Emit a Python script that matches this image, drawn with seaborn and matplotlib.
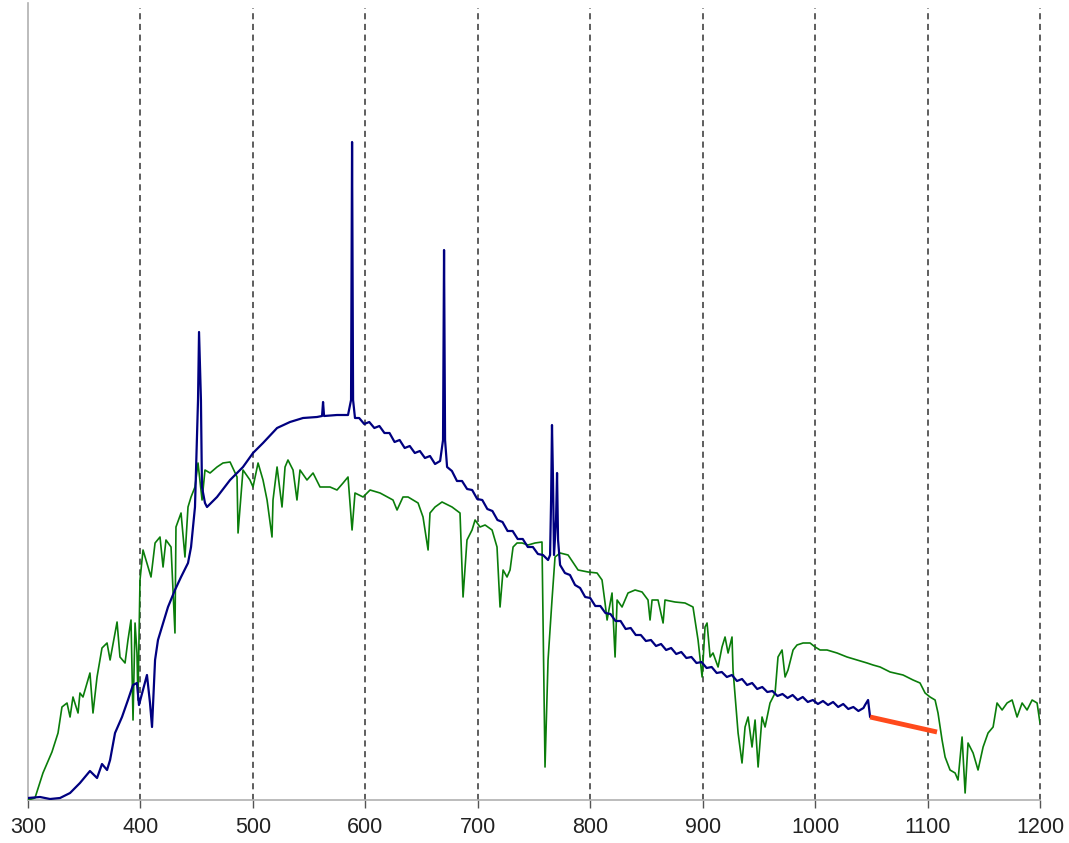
import matplotlib
matplotlib.use("Agg")
import matplotlib.pyplot as plt
import seaborn as sns
import pandas as pd

# Reference (sky) spectrum, relative intensity vs wavelength (nm)
ref_nm = [300.0, 306.2, 313.3, 321.3, 326.7, 330.2, 334.7, 337.4, 340.0, 344.5,
          346.2, 348.9, 355.1, 357.8, 361.4, 365.8, 370.3, 373.0, 379.2, 381.8,
          386.3, 388.9, 391.6, 393.4, 395.2, 396.9, 397.8, 399.6, 402.3, 409.4,
          413.0, 417.4, 420.1, 422.7, 427.2, 430.7, 431.6, 436.1, 439.6, 442.3,
          445.0, 448.5, 451.2, 454.8, 457.4, 461.9, 468.1, 473.4, 479.7, 485.9,
          486.8, 491.2, 497.4, 500.1, 504.6, 509.0, 512.6, 517.0, 517.9, 521.5,
          525.9, 528.6, 531.2, 535.7, 539.2, 541.9, 548.1, 553.5, 559.7, 568.6,
          574.8, 580.2, 584.6, 588.2, 590.8, 598.0, 604.2, 613.1, 624.6, 628.2,
          633.5, 638.0, 646.9, 651.3, 655.8, 657.5, 662.0, 668.2, 677.1, 684.2,
          686.9, 690.4, 694.9, 697.6, 702.0, 706.5, 712.7, 717.1, 719.8, 722.5,
          726.0, 728.7, 731.4, 734.9, 739.4, 744.7, 750.9, 757.1, 759.8, 762.5,
          766.0, 768.7, 773.2, 780.3, 789.2, 798.1, 806.1, 810.5, 813.2, 815.0,
          819.4, 822.1, 823.9, 828.3, 833.6, 839.9, 846.1, 851.4, 853.2, 855.0,
          860.3, 864.8, 866.5, 875.4, 884.3, 891.4, 895.9, 899.5, 902.1, 903.9,
          906.6, 909.2, 913.7, 917.2, 919.9, 922.6, 926.1, 927.0, 931.5, 935.0,
          937.7, 940.4, 943.9, 946.6, 949.3, 952.8, 955.5, 959.9, 964.4, 967.0,
          970.6, 973.3, 975.9, 980.4, 983.9, 989.3, 995.5, 1000.0, 1004.4, 1010.6,
          1019.5, 1028.4, 1037.3, 1046.2, 1051.5, 1057.8, 1066.7, 1078.2, 1087.1, 1093.3,
          1097.8, 1102.2, 1106.7, 1109.3, 1112.9, 1115.6, 1120.0, 1124.5, 1127.1, 1130.7,
          1133.4, 1136.0, 1140.5, 1144.9, 1149.4, 1153.8, 1158.3, 1161.8, 1166.3, 1170.7,
          1175.2, 1179.6, 1184.1, 1188.5, 1193.0, 1197.4, 1200.0]
ref_val = [0, 2, 27, 48, 67, 93, 97, 83, 103, 87,
           107, 103, 127, 87, 123, 152, 157, 140, 178, 143,
           137, 160, 180, 80, 177, 147, 100, 220, 250, 223,
           257, 263, 233, 260, 253, 167, 273, 287, 243, 293,
           303, 313, 337, 300, 330, 327, 333, 337, 338, 323,
           267, 330, 320, 313, 337, 320, 300, 263, 300, 333,
           293, 333, 340, 330, 300, 330, 320, 327, 313, 313,
           310, 317, 323, 270, 307, 303, 310, 307, 300, 290,
           303, 303, 297, 283, 250, 287, 293, 298, 293, 287,
           203, 260, 270, 280, 273, 275, 270, 253, 193, 230,
           223, 230, 253, 257, 257, 255, 257, 258, 33, 140,
           200, 243, 247, 245, 230, 228, 227, 220, 197, 180,
           207, 143, 200, 193, 207, 210, 208, 200, 180, 200,
           200, 177, 200, 198, 197, 193, 160, 123, 173, 177,
           143, 147, 133, 153, 163, 147, 163, 130, 67, 37,
           73, 83, 53, 80, 33, 83, 73, 97, 107, 143,
           150, 123, 130, 150, 155, 157, 157, 153, 150, 150,
           147, 143, 140, 137, 135, 133, 128, 125, 120, 117,
           107, 103, 100, 87, 60, 43, 30, 27, 20, 63,
           7, 57, 47, 30, 53, 67, 73, 97, 90, 97,
           100, 83, 97, 90, 100, 97, 77]

# Measured lamp spectrum with emission lines
lamp_nm = [300.0, 310.7, 319.6, 328.5, 337.4, 346.2, 355.1, 361.4, 365.8, 370.3,
           373.0, 377.4, 383.6, 388.9, 393.4, 396.9, 398.7, 402.3, 405.8, 408.5,
           410.3, 413.0, 415.6, 418.3, 424.5, 430.7, 436.1, 442.3, 445.0, 448.5,
           449.4, 451.2, 452.1, 453.8, 454.7, 457.4, 459.2, 468.1, 479.7, 491.2,
           500.1, 509.0, 521.5, 533.0, 544.6, 557.0, 561.5, 562.4, 563.3, 574.8,
           584.6, 587.3, 588.2, 589.1, 590.8, 594.5, 599.0, 603.5, 608.0, 612.5,
           617.0, 621.5, 626.0, 630.5, 635.0, 639.5, 644.0, 648.5, 653.0, 657.5,
           662.0, 666.5, 669.1, 670.0, 670.9, 672.7, 677.0, 681.5, 686.0, 690.5,
           695.0, 699.5, 704.0, 708.5, 713.0, 717.5, 722.0, 726.5, 731.0, 735.5,
           740.0, 744.5, 749.0, 753.5, 758.0, 762.5, 764.3, 765.2, 766.0, 766.9,
           767.8, 769.6, 770.5, 771.4, 773.2, 777.5, 782.0, 786.5, 791.0, 795.5,
           800.0, 804.5, 809.0, 813.5, 818.0, 822.5, 827.0, 831.5, 836.0, 840.5,
           845.0, 849.5, 854.0, 858.5, 863.0, 867.5, 872.0, 876.5, 881.0, 885.5,
           890.0, 894.5, 899.0, 903.5, 908.0, 912.5, 917.0, 921.5, 926.0, 930.5,
           935.0, 939.5, 944.0, 948.5, 953.0, 957.5, 962.0, 966.5, 971.0, 975.5,
           980.0, 984.5, 989.0, 993.5, 998.0, 1002.5, 1007.0, 1011.5, 1016.0, 1020.5,
           1025.0, 1029.5, 1034.0, 1038.5, 1043.0, 1044.4, 1047.1, 1048.9]
lamp_val = [2, 3, 1, 2, 7, 17, 29, 22, 36, 30,
            40, 67, 83, 100, 115, 117, 95, 110, 125, 97,
            73, 140, 160, 170, 193, 210, 223, 237, 253, 293,
            330, 400, 468, 400, 313, 297, 293, 303, 320, 333,
            347, 357, 372, 378, 382, 383, 384, 398, 384, 385,
            385, 400, 658, 400, 382, 382, 376, 378, 372, 374,
            367, 367, 358, 360, 352, 354, 347, 349, 342, 344,
            336, 339, 360, 550, 360, 333, 329, 319, 319, 311,
            310, 301, 300, 291, 289, 280, 278, 269, 269, 261,
            261, 253, 253, 246, 245, 240, 245, 300, 375, 320,
            245, 280, 327, 260, 235, 227, 225, 215, 212, 203,
            202, 194, 194, 187, 186, 179, 179, 171, 172, 165,
            165, 159, 160, 154, 156, 150, 152, 146, 148, 142,
            143, 137, 138, 132, 133, 127, 128, 123, 125, 119,
            121, 115, 117, 111, 113, 108, 109, 104, 106, 102,
            105, 100, 103, 98, 100, 96, 99, 95, 98, 93,
            96, 91, 93, 89, 92, 95, 100, 83]

# Extrapolated tail beyond the detector range
tail_nm = [1048.9, 1108.4]
tail_val = [83, 68]

sns.set_theme(style="white")
plt.rcParams["font.family"] = ["Liberation Sans", "DejaVu Sans"]

fig = plt.figure(figsize=(10.69, 8.43), dpi=100)
ax = fig.add_axes([28 / 1069, 43 / 843, (1040 - 28) / 1069, 797 / 843])

ref_df = pd.DataFrame({"wavelength": ref_nm, "intensity": ref_val})
lamp_df = pd.DataFrame({"wavelength": lamp_nm, "intensity": lamp_val})
tail_df = pd.DataFrame({"wavelength": tail_nm, "intensity": tail_val})

sns.lineplot(data=ref_df, x="wavelength", y="intensity", ax=ax,
             color="#0a7d0a", linewidth=1.2, sort=False, zorder=3)
sns.lineplot(data=lamp_df, x="wavelength", y="intensity", ax=ax,
             color="#000080", linewidth=1.6, sort=False, zorder=4)
sns.lineplot(data=tail_df, x="wavelength", y="intensity", ax=ax,
             color="#ff4a1c", linewidth=3.5, sort=False, zorder=5,
             solid_capstyle="butt")

ax.set_xlim(300, 1200)
ax.set_ylim(0, 797)
ax.set_xticks(range(300, 1201, 100))
ax.set_yticks([])
ax.set_xlabel("")
ax.set_ylabel("")

for x in range(400, 1201, 100):
    ax.axvline(x, color="#333333", linewidth=1.1, linestyle=(0, (4, 3)),
               ymin=0, ymax=0.994, zorder=1, clip_on=False)

for side in ("top", "right"):
    ax.spines[side].set_visible(False)
for side in ("left", "bottom"):
    ax.spines[side].set_color("#b0b0b0")
    ax.spines[side].set_linewidth(1.2)

ax.tick_params(axis="x", which="major", length=6, width=1, color="#555555",
               pad=6, labelsize=15.5, labelcolor="#222222", bottom=True)

fig.savefig("out.png", dpi=100)
